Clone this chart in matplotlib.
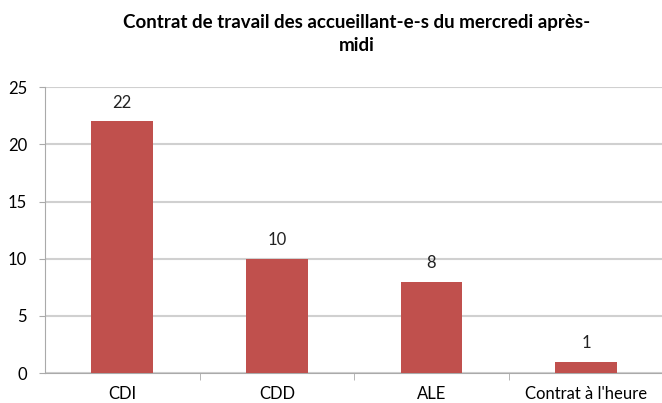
import matplotlib.pyplot as plt

categories = ["CDI", "CDD", "ALE", "Contrat à l'heure"]
values = [22, 10, 8, 1]
y_ticks = [0, 5, 10, 15, 20, 25]

plt.rcParams['font.family'] = ['Lato', 'DejaVu Sans']

fig = plt.figure(figsize=(6.62, 4.03), dpi=100)
ax = fig.add_axes([0.068, 0.074, 0.934, 0.71])

x = list(range(len(categories)))
ax.bar(x, values, width=0.4, color='#C0504D', zorder=3)
for xi, v in zip(x, values):
    ax.text(xi, v + 0.9, str(v), ha='center', va='bottom', fontsize=12, color='#222222')

ax.set_xlim(-0.5, len(categories) - 0.5)
ax.set_ylim(0, 25)
ax.set_yticks(y_ticks)
ax.yaxis.grid(True, color='#D0D0D0', linewidth=1.5, zorder=0)
ax.set_xticks(x)
ax.set_xticklabels(categories, fontsize=12)
ax.set_xticks([i + 0.5 for i in x[:-1]], minor=True)
ax.tick_params(axis='x', which='major', length=0, pad=9)
ax.tick_params(axis='x', which='minor', length=5, color='#AAAAAA')
ax.tick_params(axis='y', length=4, color='#AAAAAA', labelsize=12, pad=9)
for s in ['top', 'right']:
    ax.spines[s].set_visible(False)
ax.spines['left'].set_color('#AAAAAA')
ax.spines['bottom'].set_color('#AAAAAA')

fig.text(0.539, 0.915, "Contrat de travail des accueillant-e-s du mercredi après-\nmidi",
         ha='center', va='center', fontsize=13.5, fontweight='bold', linespacing=1.45)

fig.savefig('out.png', dpi=100)
